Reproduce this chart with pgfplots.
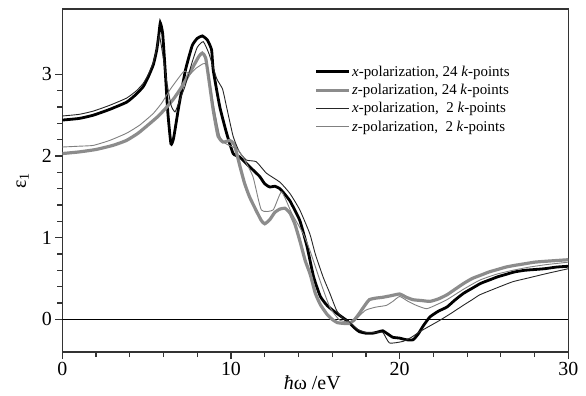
\documentclass[border=0pt]{standalone}
\usepackage{fontspec}
\setmainfont{Liberation Serif}
\usepackage{pgfplots}
\pgfplotsset{compat=1.18}
\begin{document}
\begin{tikzpicture}
\begin{axis}[
  at={(0,0)}, anchor=south west,
  width=506bp, height=343bp, scale only axis,
  xmin=0, xmax=30, ymin=-0.4, ymax=3.8,
  xtick={0,10,20,30}, ytick={0,1,2,3},
  minor x tick num=4, minor y tick num=4,
  tick align=outside, tick pos=left,
  major tick length=7bp, minor tick length=5bp,
  every tick/.style={line width=1.2bp, black!80},
  axis line style={line width=1.3bp, black!80},
  /pgf/number format/assume math mode=true,
  ticklabel style={font=\fontsize{20}{23}\selectfont},
  xlabel={\textit{ħ}ω /eV},
  ylabel={ε\textsubscript{1}},
  label style={font=\fontsize{20}{23}\selectfont},
  xlabel style={yshift=7bp, xshift=-3bp},
  ylabel style={yshift=6bp},
  legend cell align=left,
  legend image code/.code={\draw[#1] (0bp,0bp) -- (33bp,0bp);},
  legend style={font=\fontsize{15}{17}\selectfont, draw=none, fill=none,
    at={(0.492,0.845)}, anchor=north west, row sep=3.5bp,
    nodes={inner sep=1.5bp}},
  every axis plot/.append style={smooth, tension=0.3},
]
\addplot[black, line width=0.8bp, forget plot, sharp plot] coordinates {(0,0) (30,0)};
\addplot[black, line width=2.8bp] coordinates {
(0,2.44) (1,2.46) (1.84,2.50) (2.8,2.57) (3.82,2.66) (4.4,2.76) (4.8,2.85) (5.1,2.97) (5.4,3.12) (5.6,3.30) (5.72,3.48) (5.81,3.63) (5.95,3.50) (6.1,3.05) (6.25,2.55) (6.44,2.15) (6.6,2.22) (6.9,2.60) (7.3,3.05) (7.7,3.35) (8.0,3.44) (8.3,3.47) (8.6,3.42) (8.85,3.30) (8.95,3.05) (9.34,2.60) (9.74,2.28) (10.13,2.03) (10.5,1.99) (10.9,1.91) (11.3,1.83) (11.7,1.75) (12.0,1.66) (12.3,1.62) (12.6,1.63) (12.9,1.60) (13.2,1.53) (13.5,1.45) (13.8,1.33) (14.1,1.20) (14.5,0.90) (14.9,0.52) (15.3,0.28) (15.7,0.17) (16.1,0.10) (16.5,0.04) (16.9,-0.02) (17.3,-0.10) (17.6,-0.15) (18.0,-0.17) (18.4,-0.17) (18.8,-0.15) (19.0,-0.14) (19.3,-0.18) (19.6,-0.22) (20.0,-0.23) (20.4,-0.25) (20.8,-0.25) (21.1,-0.18) (21.4,-0.08) (21.8,0.03) (22.3,0.10) (22.8,0.15) (23.3,0.24) (23.8,0.32) (24.3,0.38) (24.8,0.44) (25.3,0.48) (25.8,0.52) (26.3,0.55) (26.8,0.58) (27.4,0.60) (28.0,0.61) (28.6,0.62) (29.3,0.64) (30,0.65)};
\addlegendentry{\textit{x}-polarization, 24 \textit{k}-points}
\addplot[black!45, line width=3.2bp] coordinates {
(0,2.03) (1,2.05) (2,2.08) (3,2.13) (3.8,2.19) (4.5,2.28) (5.2,2.40) (5.7,2.49) (6.2,2.60) (6.6,2.70) (7.0,2.82) (7.4,2.96) (7.8,3.11) (8.1,3.22) (8.3,3.26) (8.5,3.20) (8.75,2.85) (8.95,2.56) (9.24,2.24) (9.54,2.17) (9.93,2.19) (10.2,2.14) (10.5,1.90) (10.8,1.67) (11.1,1.50) (11.5,1.33) (11.8,1.21) (12.0,1.17) (12.3,1.22) (12.6,1.31) (12.9,1.35) (13.2,1.36) (13.5,1.30) (13.8,1.16) (14.1,0.95) (14.4,0.72) (14.7,0.55) (15.0,0.32) (15.3,0.18) (15.7,0.06) (16.0,0.00) (16.3,-0.04) (16.7,-0.05) (17.0,-0.05) (17.3,-0.01) (17.6,0.07) (17.9,0.16) (18.2,0.24) (18.6,0.26) (19.0,0.27) (19.5,0.29) (20.0,0.31) (20.4,0.27) (20.8,0.24) (21.3,0.23) (21.8,0.22) (22.3,0.25) (22.8,0.30) (23.3,0.37) (23.8,0.44) (24.3,0.50) (24.8,0.54) (25.3,0.58) (25.8,0.61) (26.3,0.64) (26.8,0.66) (27.4,0.68) (28.0,0.70) (28.6,0.71) (29.3,0.72) (30,0.73)};
\addlegendentry{\textit{z}-polarization, 24 \textit{k}-points}
\addplot[black!85, line width=0.9bp] coordinates {
(0,2.49) (1,2.51) (1.84,2.55) (2.8,2.62) (3.82,2.71) (4.4,2.80) (4.8,2.89) (5.1,3.00) (5.4,3.15) (5.6,3.32) (5.75,3.48) (5.95,3.25) (6.2,2.90) (6.45,2.62) (6.68,2.54) (6.9,2.65) (7.27,2.85) (7.7,3.15) (8.0,3.33) (8.36,3.40) (8.7,3.25) (9.15,2.95) (9.5,2.82) (9.74,2.60) (10.13,2.24) (10.5,2.05) (10.92,1.95) (11.5,1.93) (12.1,1.79) (12.9,1.68) (13.5,1.54) (14.08,1.34) (14.67,1.05) (15.0,0.80) (15.46,0.52) (15.86,0.32) (16.26,0.11) (16.6,0.02) (17.0,-0.03) (17.5,-0.12) (18.0,-0.16) (18.5,-0.16) (19.0,-0.16) (19.4,-0.29) (20.2,-0.27) (20.7,-0.22) (21.2,-0.15) (21.8,-0.08) (22.4,-0.01) (23.1,0.08) (23.76,0.17) (24.3,0.24) (24.75,0.30) (25.7,0.38) (26.7,0.46) (27.7,0.51) (28.7,0.56) (30,0.62)};
\addlegendentry{\textit{x}-polarization,~~2 \textit{k}-points}
\addplot[black!50, line width=0.9bp] coordinates {
(0,2.11) (1,2.12) (1.84,2.13) (2.8,2.19) (3.82,2.28) (4.6,2.38) (5.39,2.52) (5.9,2.65) (6.38,2.81) (6.8,2.93) (7.17,3.03) (7.3,3.04) (7.56,3.00) (7.9,3.07) (8.36,3.13) (8.6,3.10) (8.95,2.64) (9.34,2.24) (9.7,2.15) (10.0,2.12) (10.4,2.08) (10.7,1.99) (11.3,1.75) (11.8,1.34) (12.5,1.34) (13.0,1.56) (13.6,1.30) (14.28,1.05) (14.67,0.85) (15.27,0.48) (15.86,0.15) (16.45,-0.01) (17.2,-0.03) (17.97,0.11) (18.6,0.15) (19.2,0.17) (19.6,0.22) (20.0,0.28) (20.5,0.22) (21.0,0.17) (21.6,0.13) (22.2,0.18) (22.8,0.24) (23.8,0.37) (24.75,0.48) (25.7,0.55) (26.7,0.60) (27.7,0.64) (28.7,0.67) (30,0.70)};
\addlegendentry{\textit{z}-polarization,~~2 \textit{k}-points}
\end{axis}
\pgfresetboundingbox
\path[use as bounding box] (-62.3bp,-44bp) rectangle (523.7bp,352bp);
\end{tikzpicture}
\end{document}
